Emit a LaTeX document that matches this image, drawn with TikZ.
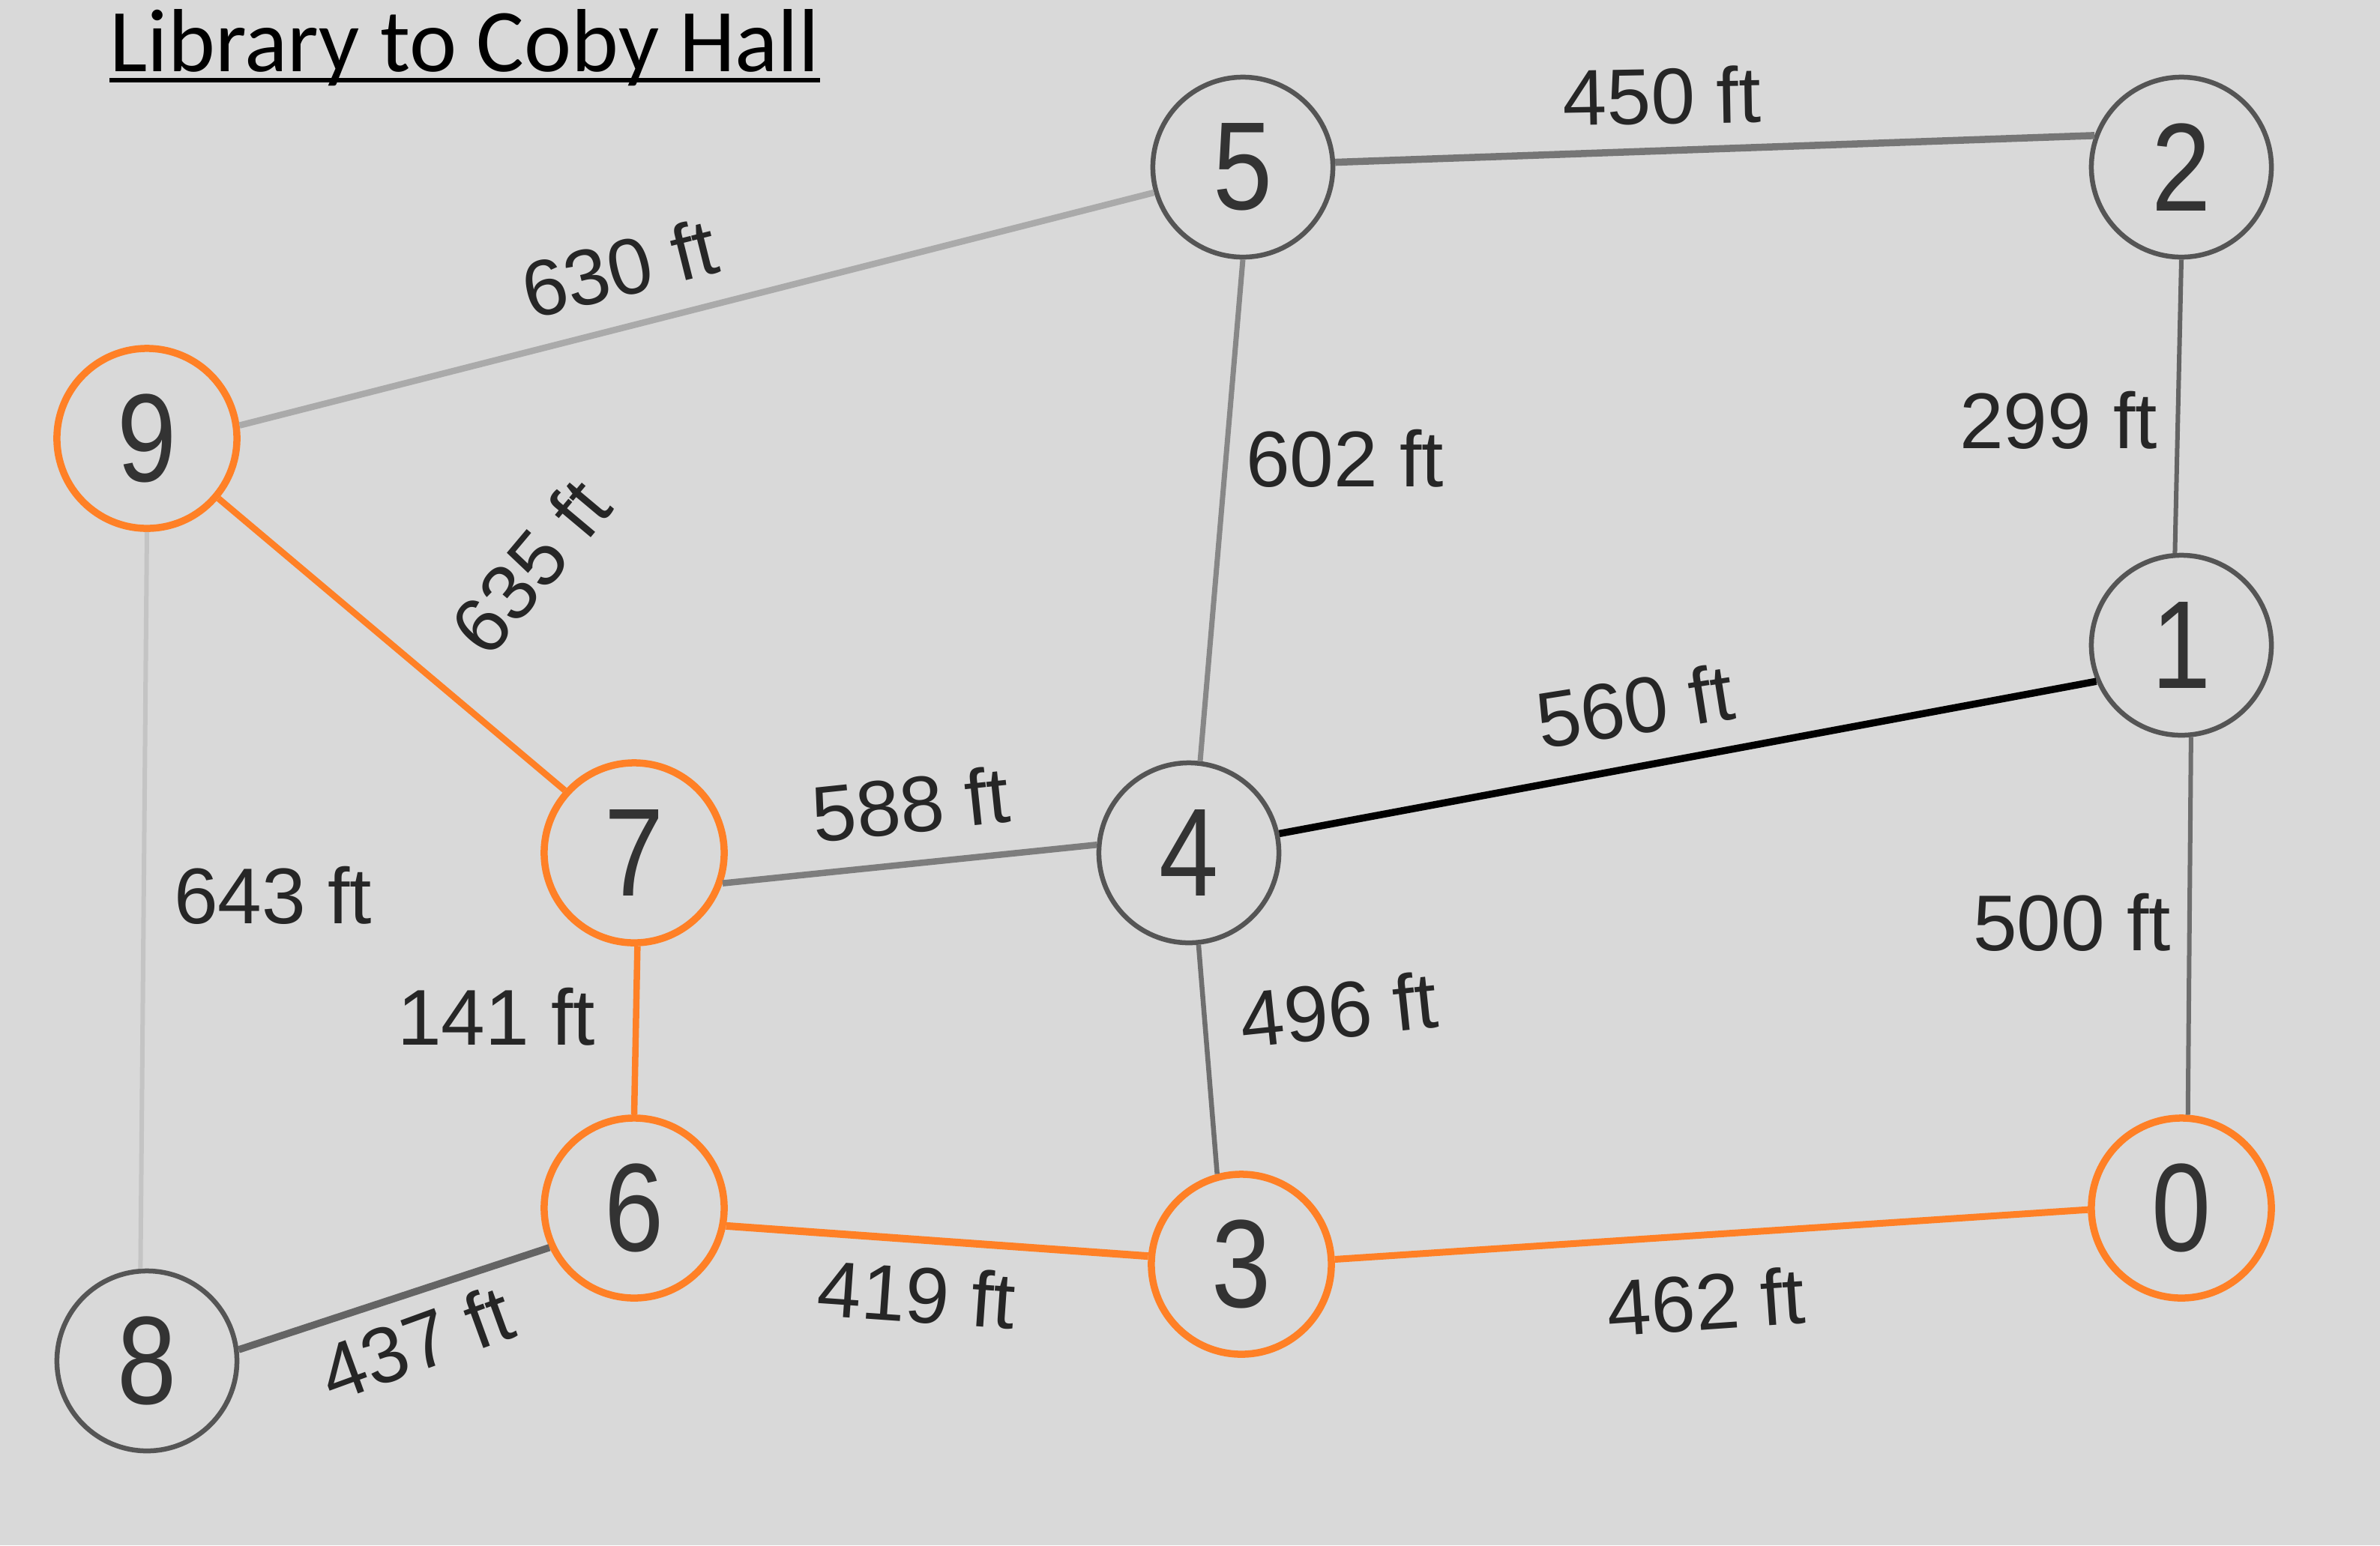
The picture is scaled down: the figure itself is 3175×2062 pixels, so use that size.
\documentclass[tikz,border=0pt]{standalone}
\usepackage{fontspec}
\setmainfont{Liberation Sans}
\newfontfamily\titlefont{Carlito}
\definecolor{bg}{RGB}{217,217,217}
\definecolor{orng}{RGB}{255,128,38}
\definecolor{vgray}{RGB}{85,85,85}
\definecolor{numgray}{RGB}{51,51,51}
\tikzset{
  vtx/.style={circle, draw=vgray, line width=0.65mm, minimum size=2.40cm, inner sep=0pt,
    text=numgray, font=\fontsize{44}{50}\selectfont},
  hot/.style={draw=orng, line width=0.95mm},
  lbl/.style={inner sep=0pt, text=black!85, font=\fontsize{30}{36}\selectfont},
  edge/.style={line width=0.75mm},
  path/.style={draw=orng, line width=0.85mm}
}
\newcommand{\num}[1]{\scalebox{0.92}[1.08]{#1}}
\begin{document}
\begin{tikzpicture}[x=0.01cm, y=-0.01cm]
\fill[bg] (0,0) rectangle (3175,2062);
\useasboundingbox (0,0) rectangle (3175,2062);

% title
\node[anchor=base west, inner sep=0pt, font=\titlefont\fontsize{34}{40}\selectfont] (title) at (146,95) {Library to Coby Hall};
\draw[line width=0.6mm] ([yshift=-0.12cm]title.base west) -- ([yshift=-0.12cm]title.base east);

% vertices
\node[vtx, hot] (n9) at (196,585) {\num{9}};
\node[vtx] (n5) at (1658,223) {\num{5}};
\node[vtx] (n2) at (2910,223) {\num{2}};
\node[vtx] (n1) at (2910,861) {\num{1}};
\node[vtx, hot] (n7) at (846,1138) {\num{7}};
\node[vtx] (n4) at (1586,1138) {\num{4}};
\node[vtx, hot] (n6) at (846,1612) {\num{6}};
\node[vtx, hot] (n3) at (1656,1687) {\num{3}};
\node[vtx, hot] (n0) at (2910,1612) {\num{0}};
\node[vtx] (n8) at (196,1816) {\num{8}};

% edges
\draw[edge, draw={rgb,255:red,170;green,170;blue,170}, line width=0.85mm] (n9.8) -- (n5.196);
\draw[edge, draw={rgb,255:red,118;green,118;blue,118}, line width=0.95mm] (n5.3) -- (n2.160);
\draw[edge, draw={rgb,255:red,135;green,135;blue,135}, line width=0.7mm] (n5.270) -- (n4.83);
\draw[edge, draw={rgb,255:red,100;green,100;blue,100}, line width=0.6mm] (n2.270) -- (n1.94);
\draw[edge, draw={rgb,255:red,196;green,196;blue,196}, line width=0.6mm] (n9.270) -- (n8.94);
\draw[edge, draw={rgb,255:red,125;green,125;blue,125}, line width=0.85mm] (n7.341) -- (n4.175);
\draw[edge, draw=black, line width=0.95mm] (n4.12) -- (n1.203);
\draw[edge, draw={rgb,255:red,110;green,110;blue,110}, line width=0.65mm] (n4.276) -- (n3.105);
\draw[edge, draw={rgb,255:red,110;green,110;blue,110}, line width=0.6mm] (n1.276) -- (n0.86);
\draw[edge, draw={rgb,255:red,100;green,100;blue,100}, line width=0.95mm] (n8.7) -- (n6.205);
\draw[path] (n9.320) -- (n7.138);
\draw[path] (n7.272) -- (n6.90);
\draw[path, line width=1.0mm] (n6.349) -- (n3.175);
\draw[path, line width=0.9mm] (n3.3) -- (n0.181);

% labels
\node[lbl, rotate=1] (l450) at (2217,128) {450 ft};
\node[lbl, rotate=14] (l630) at (826,358) {630 ft};
\node[lbl] (l602) at (1794,612) {602 ft};
\node[lbl] (l299) at (2746,561) {299 ft};
\node[lbl, rotate=50] (l635) at (707,756) {635 ft};
\node[lbl] (l643) at (364,1195) {643 ft};
\node[lbl, rotate=6] (l588) at (1215,1073) {588 ft};
\node[lbl, rotate=9] (l560) at (2181,942) {560 ft};
\node[lbl] (l141) at (662,1357) {141 ft};
\node[lbl, rotate=6] (l496) at (1786,1347) {496 ft};
\node[lbl] (l500) at (2764,1231) {500 ft};
\node[lbl, rotate=20] (l437) at (555,1792) {437 ft};
\node[lbl, rotate=-4] (l419) at (1223,1727) {419 ft};
\node[lbl, rotate=4] (l462) at (2276,1737) {462 ft};
\end{tikzpicture}
\end{document}
